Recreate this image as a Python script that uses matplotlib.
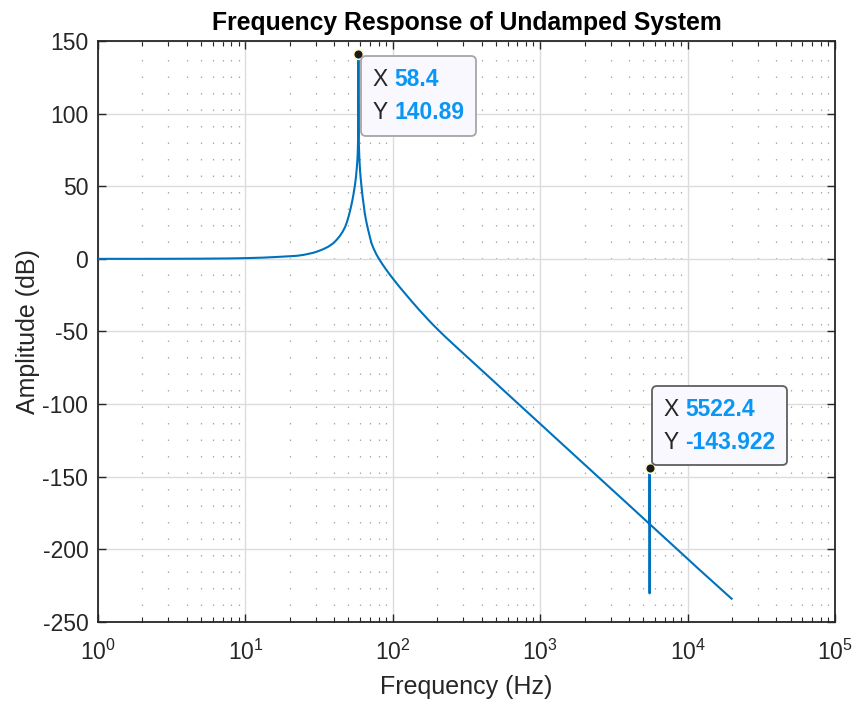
import matplotlib
matplotlib.use("Agg")
import matplotlib.pyplot as plt
from matplotlib.offsetbox import TextArea, HPacker, VPacker, AnnotationBbox
from matplotlib.ticker import LogLocator, MultipleLocator, NullFormatter

plt.rcParams["font.family"] = ["Liberation Sans", "DejaVu Sans"]
plt.rcParams["mathtext.fontset"] = "custom"
plt.rcParams["mathtext.rm"] = "Liberation Sans"
plt.rcParams["axes.unicode_minus"] = False

# Magnitude response samples (frequency in Hz, amplitude in dB)
freq_hz = [1, 2, 3, 5, 7.86, 10, 13.2, 17, 22.3, 25, 28.9, 31, 33.8, 36.5,
           39.4, 41.5, 43.8, 45.6, 47.4, 48.7, 49.9, 50.9, 51.8, 52.4, 53,
           54, 54.7, 55.4, 56.3, 56.9, 57.5, 57.9, 58.2, 58.35, 58.4,
           58.45, 58.55, 58.8, 59.3, 60, 61, 62, 63, 64.6, 66.3, 68, 70,
           71.6, 74, 77, 80, 85, 90, 95, 100, 110, 120, 135, 150, 160, 175,
           188, 203.6, 225, 250, 275, 300, 350, 400, 500, 729.6, 1000,
           1400, 1862, 2546, 4000, 5515, 5522.4, 5523, 5530, 8000, 12000,
           19900]
amp_db = [0.0, 0.02, 0.05, 0.13, 0.3, 0.5, 0.85, 1.4, 2.1, 2.8, 4.2, 5.2,
          6.7, 8.4, 10.7, 13.0, 15.9, 18.6, 21.8, 25.0, 28.5, 31.8, 35.0,
          37.3, 39.6, 44.0, 47.5, 51.0, 57.0, 62.0, 68.0, 75.0, 86.0,
          100.0, 140.89, 110.0, 95.0, 80.0, 69.0, 60.0, 52.0, 45.0, 39.5,
          31.0, 25.0, 20.0, 14.8, 10.9, 7.2, 3.5, 0.5, -3.7, -7.3, -10.6,
          -13.5, -18.8, -23.4, -29.5, -34.8, -37.9, -42.2, -45.5, -49.0,
          -53.3, -57.6, -61.5, -65.0, -71.2, -76.6, -85.6, -100.9, -113.6,
          -127.2, -138.7, -151.3, -169.5, -182.5, -143.922, -230.3,
          -182.6, -197.5, -213.9, -234.0]

# Data tips
tip_x = [58.4, 5522.4]
tip_y = [140.89, -143.922]

line_color = "#0072BD"
axis_color = "#262626"
tip_value_color = "#0A96F5"

fig = plt.figure(figsize=(8.57, 7.02), dpi=100)
ax = fig.add_axes([0.1144, 0.114, 0.8599, 0.8276])

ax.semilogx(freq_hz, amp_db, color=line_color, lw=1.5, zorder=3)

ax.set_xlim(1, 1e5)
ax.set_ylim(-250, 150)
ax.xaxis.set_major_locator(LogLocator(base=10, numticks=10))
ax.xaxis.set_minor_locator(LogLocator(base=10, subs=range(2, 10), numticks=20))
ax.xaxis.set_minor_formatter(NullFormatter())
ax.yaxis.set_major_locator(MultipleLocator(50))

ax.set_axisbelow(True)
ax.grid(which="major", color="#dcdcdc", lw=1.0, ls="-")
ax.grid(which="minor", axis="x", color="#a8a8a8", lw=0.9, ls=(0, (1.2, 12)))

for sp in ax.spines.values():
    sp.set_color(axis_color)
    sp.set_linewidth(1.3)
ax.tick_params(which="both", direction="in", top=True, right=True,
               color=axis_color, labelcolor=axis_color, labelsize=16.5)
ax.tick_params(which="major", length=6, width=1.0)
ax.tick_params(which="minor", length=3.5, width=0.8)
ax.tick_params(axis="x", which="major", pad=13)
ax.tick_params(axis="y", which="major", pad=7)

ax.set_xlabel("Frequency (Hz)", fontsize=18, color=axis_color, labelpad=7)
ax.set_ylabel("Amplitude (dB)", fontsize=18, color=axis_color, labelpad=2)
ax.set_title("Frequency Response of Undamped System", fontsize=17.8,
             fontweight="bold", color="black", pad=8)

# Data tip markers
ax.plot(tip_x, tip_y, ls="none", marker="o", ms=7, mfc="#1a1a1a",
        mec="#fff8c8", mew=1.2, zorder=5)


def tip_box(x, y, offset, align, edge):
    lines = []
    for name, val in (("X", x), ("Y", y)):
        lines.append(HPacker(children=[
            TextArea(name + " ", textprops=dict(color=axis_color, fontsize=16.5)),
            TextArea("%g" % val, textprops=dict(color=tip_value_color,
                                                fontsize=16.5, fontweight="bold")),
        ], align="baseline", pad=0, sep=0))
    box = VPacker(children=lines, align="left", pad=0, sep=7)
    ab = AnnotationBbox(box, (x, y), xybox=offset, xycoords="data",
                        boxcoords="offset points", box_alignment=align,
                        frameon=True, pad=0.9,
                        bboxprops=dict(boxstyle="round,pad=0.85,rounding_size=0.35",
                                       fc="#F8F8FE", ec=edge, lw=1.3),
                        zorder=6)
    ax.add_artist(ab)


tip_box(tip_x[0], tip_y[0], (10.5, -10.0), (0, 1), "#a6a6a6")
tip_box(tip_x[1], tip_y[1], (10.5, 10.3), (0, 0), "#5f5f5f")

fig.savefig("out.png", dpi=100)
